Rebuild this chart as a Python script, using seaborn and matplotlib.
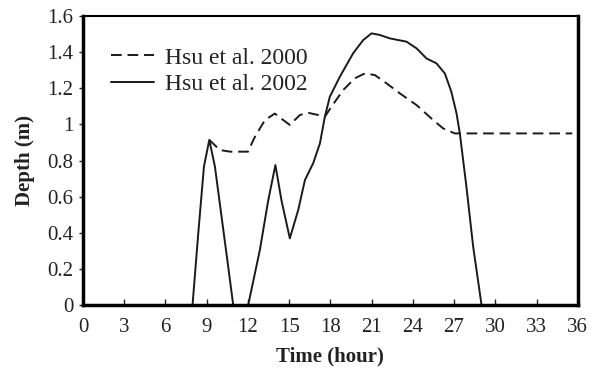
import matplotlib
matplotlib.use("Agg")
import matplotlib.pyplot as plt
import seaborn as sns
import pandas as pd
from matplotlib.ticker import FuncFormatter

# Flood depth time series from two models
hsu2000_time = [9.19, 9.96, 10.7, 12.0, 12.5, 13.24, 13.96, 14.57, 15.05, 15.78, 16.4,
                17.1, 17.6, 18.08, 18.93, 19.78, 20.5, 21.24, 22.09, 23.05, 24.27,
                25.48, 26.2, 27.05, 35.6]
hsu2000_depth = [0.914, 0.858, 0.849, 0.849, 0.93, 1.024, 1.06, 1.024, 0.997, 1.052, 1.064,
                 1.052, 1.043, 1.098, 1.19, 1.255, 1.282, 1.273, 1.227, 1.172, 1.107,
                 1.024, 0.978, 0.95, 0.95]

hsu2002_time = [7.97, 8.39, 8.8, 9.19, 9.6, 10.08, 10.57, 10.93, 12.02, 12.87, 13.48,
                14.0, 14.44, 15.05, 15.66, 16.15, 16.75, 17.24, 17.6, 17.96, 18.69,
                19.66, 20.39, 21.0, 21.6, 22.33, 23.54, 24.27, 25.0, 25.72, 26.33,
                26.8, 27.18, 27.42, 27.9, 28.39, 29.0]
hsu2002_depth = [0.0, 0.4, 0.766, 0.914, 0.766, 0.49, 0.21, 0.0, 0.0, 0.305, 0.58,
                 0.775, 0.58, 0.369, 0.526, 0.692, 0.785, 0.895, 1.043, 1.153, 1.264,
                 1.394, 1.467, 1.504, 1.495, 1.476, 1.458, 1.421, 1.365, 1.338, 1.282,
                 1.181, 1.061, 0.95, 0.655, 0.323, 0.0]

series_names = ["Hsu et al. 2000", "Hsu et al. 2002"]
x_ticks = list(range(0, 37, 3))
y_ticks = [0, 0.2, 0.4, 0.6, 0.8, 1.0, 1.2, 1.4, 1.6]

df = pd.concat([
    pd.DataFrame({"Time": hsu2000_time, "Depth": hsu2000_depth, "Model": series_names[0]}),
    pd.DataFrame({"Time": hsu2002_time, "Depth": hsu2002_depth, "Model": series_names[1]}),
], ignore_index=True)

sns.set_theme(style="ticks")
plt.rcParams["font.family"] = ["Liberation Serif", "DejaVu Serif"]

fig = plt.figure(figsize=(5.95, 3.69), dpi=100)
ax = fig.add_axes([0.1395, 0.1734, 0.8315, 0.7832])

line_color = "#1a1a1a"
sns.lineplot(data=df, x="Time", y="Depth", style="Model",
             dashes={series_names[0]: (5.5, 3), series_names[1]: ""},
             color=line_color, linewidth=1.4, sort=False, estimator=None, ax=ax)

ax.set_xlim(0, 36)
ax.set_ylim(0, 1.6)
ax.set_xticks(x_ticks)
ax.set_yticks(y_ticks)
ax.yaxis.set_major_formatter(FuncFormatter(lambda v, p: f"{v:g}"))
ax.tick_params(axis="x", direction="in", length=4, width=1, labelsize=15, pad=9,
               colors="#222222")
ax.tick_params(axis="y", direction="out", length=3, width=1, labelsize=15, pad=4,
               colors="#222222")

for side in ["left", "right", "top", "bottom"]:
    ax.spines[side].set_visible(True)
    ax.spines[side].set_color("black")
ax.spines["left"].set_linewidth(2.5)
ax.spines["bottom"].set_linewidth(2.5)
ax.spines["right"].set_linewidth(2.5)
ax.spines["top"].set_linewidth(1.5)

ax.set_xlabel("Time (hour)", fontsize=15, fontweight="bold", labelpad=7, color="#222222")
ax.set_ylabel("Depth (m)", fontsize=15, fontweight="bold", labelpad=9, color="#222222")

leg = ax.legend(loc="upper left", frameon=False, fontsize=17, handlelength=1.8,
                handletextpad=0.5, labelspacing=0.2, bbox_to_anchor=(0.014, 0.966))
for line in leg.get_lines():
    line.set_linewidth(1.4)
for t in leg.get_texts():
    t.set_color("#222222")

fig.savefig("out.png", dpi=100)
